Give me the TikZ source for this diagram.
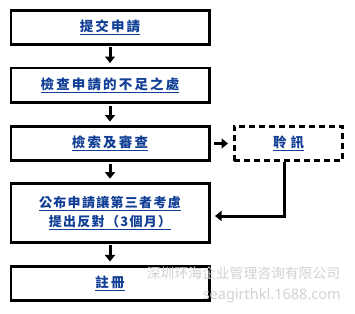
\documentclass[tikz,border=0pt]{standalone}
\usepackage{fontspec}
\newfontfamily\cjkA{Noto Sans CJK TC}[LetterSpace=16]
\newfontfamily\cjkB{Noto Sans CJK TC}[LetterSpace=10]
\newfontfamily\cjksc{Noto Sans CJK SC}
\newfontfamily\wmlat{Noto Sans}
\usetikzlibrary{arrows.meta}
\definecolor{txtblue}{HTML}{123F96}
\definecolor{wmgray}{HTML}{D2D2D2}
\newcommand\myul[1]{\setbox0=\hbox{#1}\leavevmode\rlap{\color{txtblue}\vrule height -2.6pt depth 3.9pt width \wd0}\box0}
\begin{document}
\begin{tikzpicture}[x=1pt,y=-1pt,
  box/.style={draw=black,line width=2.7pt,minimum width=198.3pt,inner sep=0pt,
    text=txtblue,font=\cjkA\bfseries\fontsize{13.5}{16}\selectfont},
  dbox/.style={box,minimum width=108.3pt,dash pattern=on 6pt off 4pt},
  arr/.style={line width=3pt,-{Triangle[length=6.5pt,width=10pt]}},
  wm/.style={text=wmgray,inner sep=0pt}]
\fill[white] (0,0) rectangle (355,313);
\useasboundingbox (0,0) rectangle (355,313);
\node[box,minimum height=33.3pt] (b1) at (110,27.5) {\myul{提交申請}};
\node[box,minimum height=34.8pt] (b2) at (110,85.25) {\myul{檢查申請的不足之處}};
\node[box,minimum height=34.3pt] (b3) at (110,143.5) {\myul{檢索及審查}};
\node[box,minimum height=59pt,align=center,font=\cjkB\bfseries\fontsize{13}{19}\selectfont] (b4) at (110,213) {\myul{公布申請讓第三者考慮}\\\myul{提出反對（3個月）}};
\node[box,minimum height=34pt] (b5) at (110,283.3) {\myul{註冊}};
\node[dbox,minimum height=34.3pt] (d) at (288.5,143.5) {\myul{聆\kern4pt訊}};
\draw[arr] ([yshift=-1.5pt]b1.south) -- ([yshift=3.5pt]b2.north);
\draw[arr] ([yshift=-1.5pt]b2.south) -- ([yshift=3.5pt]b3.north);
\draw[arr] ([yshift=-1.5pt]b3.south) -- ([yshift=3.5pt]b4.north);
\draw[arr] ([yshift=-1.5pt]b4.south) -- ([yshift=3.5pt]b5.north);
\draw[arr] ([xshift=3.5pt]b3.east) -- ([xshift=-5pt]d.west);
\coordinate (c) at (284.3,216);
\draw[arr] (d.south -| c) -- (c) -- ([xshift=4.5pt]b4.east |- c);
\node[wm,font=\cjksc\fontsize{13.8}{16}\selectfont] (w1) at (243.5,273) {深圳环海企业管理咨询有限公司};
\node[wm,font=\wmlat\fontsize{14.5}{16}\selectfont] (w2) at (271.7,296) {seagirthkl.1688.com};
\end{tikzpicture}
\end{document}
